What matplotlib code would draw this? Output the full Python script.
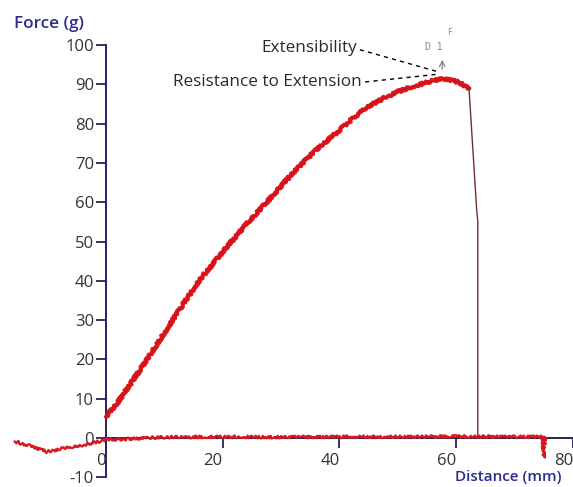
import matplotlib
matplotlib.use("Agg")
import matplotlib.pyplot as plt

plt.rcParams["axes.unicode_minus"] = False

# ---- data ----
curve_x = [0, 2.0, 4.7, 7.5, 10.4, 13.2, 16.1, 19.0, 21.8, 24.6, 27.5, 30.4, 33.2, 36.0,
           38.9, 41.8, 44.6, 47.5, 50.3, 53.2, 56.0, 57.6, 59.0, 60.5, 61.7, 62.2]
curve_y = [5.4, 9.0, 14.8, 21.0, 27.6, 34.0, 40.3, 45.6, 50.5, 55.3, 59.9, 64.8, 69.2, 73.3,
           76.9, 80.7, 84.1, 86.4, 88.3, 89.7, 90.9, 91.3, 91.1, 90.5, 89.3, 88.8]
drop_x = [62.2, 63.1, 63.5, 63.7, 63.7]
drop_y = [88.8, 67.6, 58.2, 55.0, 0.0]
base_x = [-15.6, -13.0, -10.1, -7.0, -3.9, 0, 10, 20, 30, 40, 50, 60, 70, 74.8, 75.0, 75.2, 75.4]
base_y = [-0.9, -2.0, -3.5, -2.5, -1.8, -0.5, 0.2, 0.3, 0.2, 0.3, 0.3, 0.4, 0.3, 0.3, -5.0, 0.3, 0.3]

x_ticks = [0, 20, 40, 60, 80]
y_ticks = [-10, 0, 10, 20, 30, 40, 50, 60, 70, 80, 90, 100]
point = (57.6, 93.2)
ann_labels = ["Extensibility", "Resistance to Extension"]
ann_text_pos = [(43.1, 99.2), (43.8, 90.6)]
ann_line_start = [(43.5, 98.8), (44.4, 90.6)]
ann_line_end = [(57.1, 93.1), (57.1, 92.6)]

W, H = 573, 487
fig = plt.figure(figsize=(W / 100, H / 100), dpi=100)
ax = fig.add_axes([0, 0, 1, 1])
ax.set_xlim(-106 / 5.85, (W - 106) / 5.85)
ax.set_ylim(-(H - 438) / 3.93, 438 / 3.93)

navy = "#24245c"
font = "Open Sans"

for s in ["top", "right"]:
    ax.spines[s].set_visible(False)
ax.spines["left"].set_position(("data", 0))
ax.spines["bottom"].set_position(("data", 0))
ax.spines["left"].set_bounds(-10, 100)
ax.spines["bottom"].set_bounds(0, 80)
for s in ["left", "bottom"]:
    ax.spines[s].set_color(navy)
    ax.spines[s].set_linewidth(1.4)

ax.set_xticks(x_ticks)
ax.set_yticks(y_ticks)
ax.set_xticklabels([str(v) for v in x_ticks], ha="right")
ax.tick_params(axis="both", direction="out", length=7, width=1.3, color=navy,
               labelsize=12, labelcolor="#333333")
ax.tick_params(axis="y", pad=1.5)
ax.tick_params(axis="x", pad=4)
for lab in ax.get_xticklabels() + ax.get_yticklabels():
    lab.set_fontfamily(font)

# baseline
bl, = ax.plot(base_x, base_y, color="#d8181e", lw=1.6, zorder=3)
bl.set_sketch_params(1.4, 4, 3)
# main curve
cl, = ax.plot(curve_x, curve_y, color="#e0141c", lw=2.8, zorder=3, solid_capstyle="round")
cl.set_sketch_params(1.4, 3, 3)
ax.plot(curve_x, curve_y, color="#a01818", lw=0.6, zorder=4, alpha=0.6)
# drop
ax.plot(drop_x, drop_y, color="#7a2a2a", lw=1.0, zorder=3)

# annotations
for lab, tp, ls, le in zip(ann_labels, ann_text_pos, ann_line_start, ann_line_end):
    ax.text(tp[0], tp[1], lab, ha="right", va="center", fontsize=12.3,
            family=font, color="#2a2a2a")
    ax.plot([ls[0], le[0]], [ls[1], le[1]], color="black", lw=1.0,
            linestyle=(0, (3, 3)), zorder=5)

ax.annotate("", xy=(point[0], 96.9), xytext=(point[0], 93.1),
            arrowprops=dict(arrowstyle="->", color="#777777", lw=0.8))
ax.text(56.2, 99.4, "D 1", ha="center", va="center", fontsize=7,
        family="DejaVu Sans Mono", color="#888888")
ax.text(58.8, 103.2, "F", ha="center", va="center", fontsize=5.5,
        family="DejaVu Sans Mono", color="#888888")

fig.text(14 / W, 1 - 24 / H, "Force (g)", ha="left", va="center", fontsize=12.3,
         family=font, weight="semibold", color="#2b2b90")
fig.text(455 / W, 1 - 470 / H, "Distance (mm)", ha="left", va="top", fontsize=11,
         family=font, weight="semibold", color="#2b2b90")

fig.savefig("out.png", dpi=100)
